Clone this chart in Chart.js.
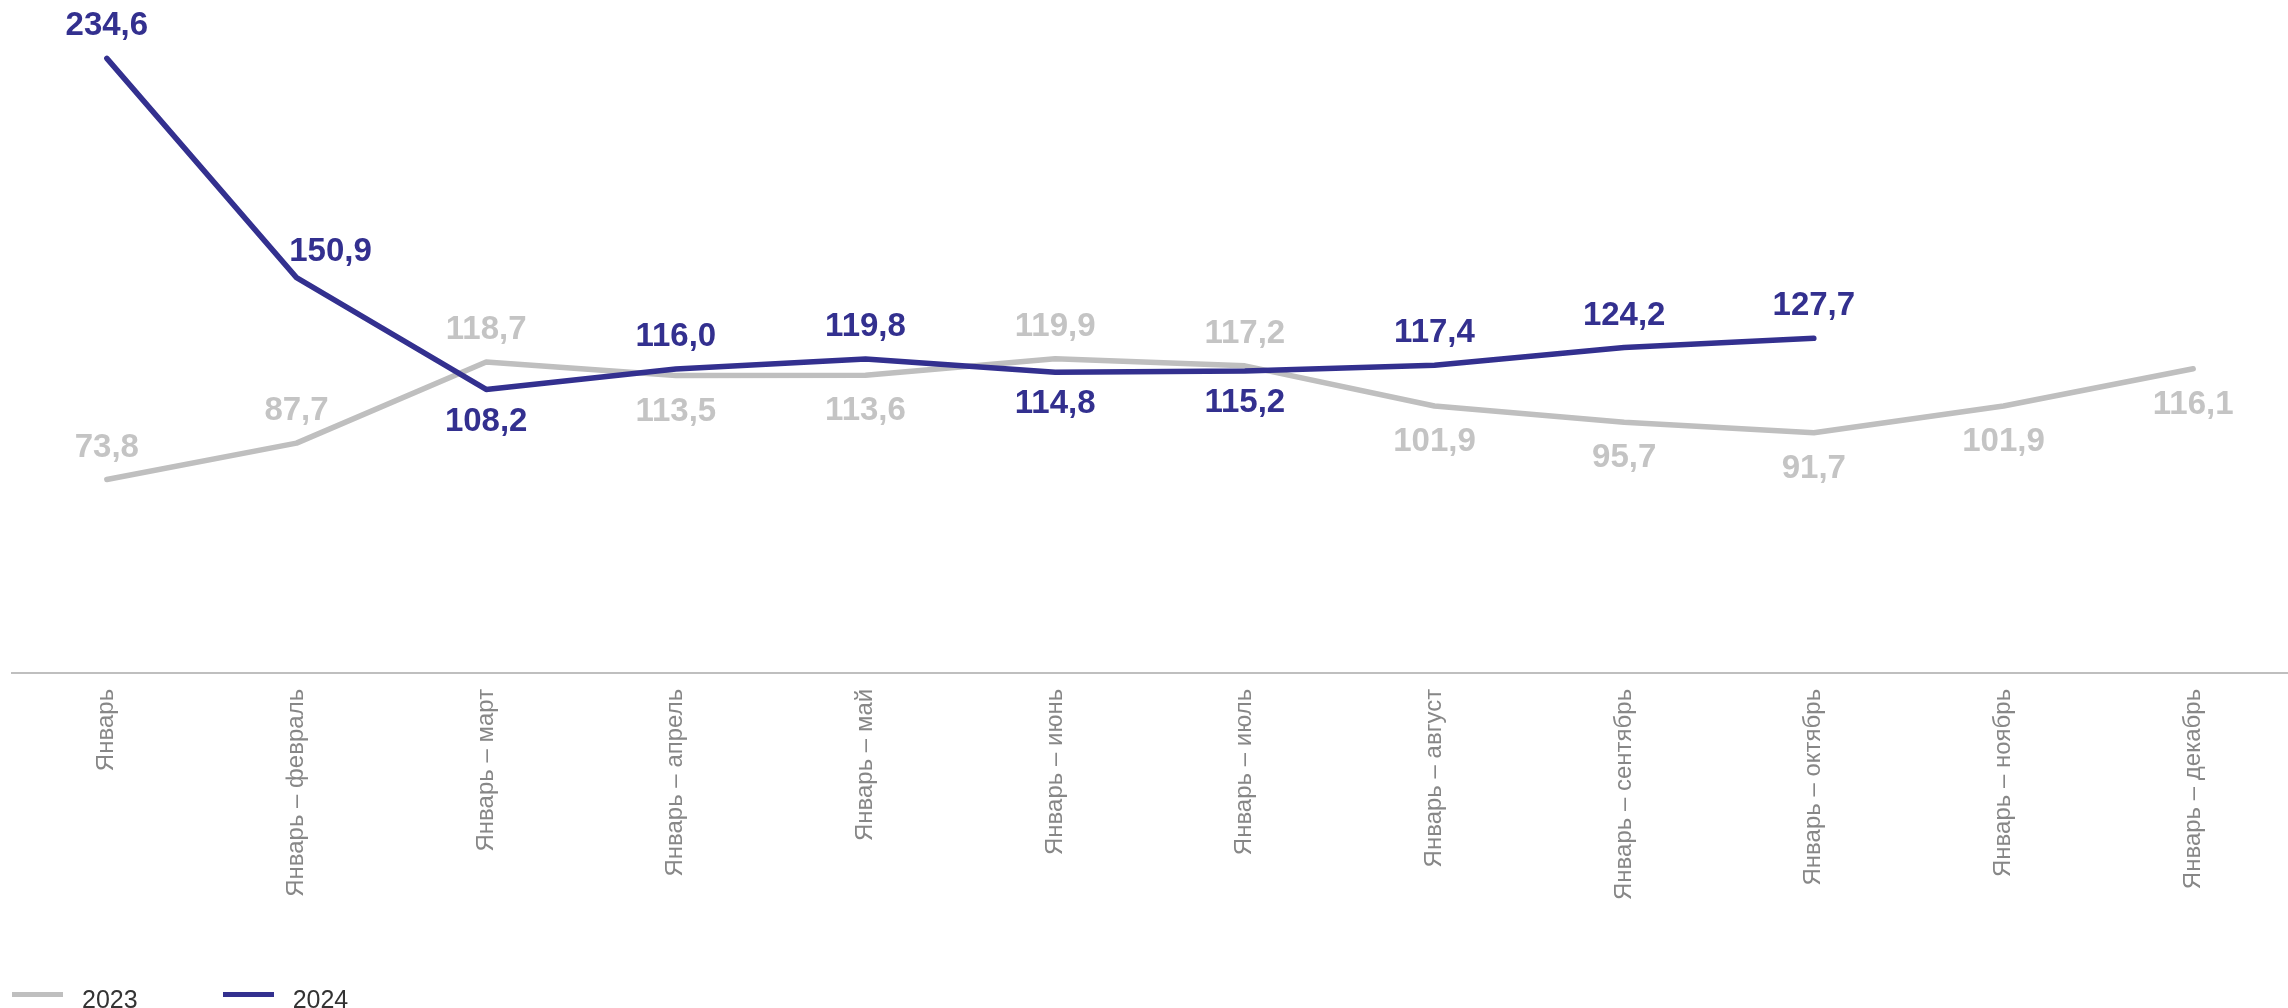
<!DOCTYPE html>
<html lang="ru">
<head>
<meta charset="utf-8">
<title>Январь – декабрь, 2023 / 2024</title>
<script src="https://cdn.jsdelivr.net/npm/chart.js@4.4.1/dist/chart.umd.min.js"></script>
<style>
  html, body { margin: 0; padding: 0; background: #fff; }
  .chart-wrap { position: relative; width: 2288px; height: 1008px; }
  #legend {
    position: absolute; left: 12px; top: 985px; display: flex;
    font-family: "Liberation Sans", Arial, sans-serif; font-size: 25px; color: #333;
  }
  .legend-item { display: flex; align-items: center; margin-right: 85px; }
  .legend-line { width: 51px; height: 5px; margin-right: 19px; position: relative; top: -5px; }
</style>
</head>
<body>
<div class="chart-wrap">
  <canvas id="growthChart"></canvas>
  <div id="legend"></div>
</div>
<script>
// Data
const categories = [
  'Январь', 'Январь – февраль', 'Январь – март', 'Январь – апрель', 'Январь – май', 'Январь – июнь',
  'Январь – июль', 'Январь – август', 'Январь – сентябрь', 'Январь – октябрь', 'Январь – ноябрь', 'Январь – декабрь'
];
const seriesNames = ['2023', '2024'];
const values2023 = [73.8, 87.7, 118.7, 113.5, 113.6, 119.9, 117.2, 101.9, 95.7, 91.7, 101.9, 116.1];
const values2024 = [234.6, 150.9, 108.2, 116.0, 119.8, 114.8, 115.2, 117.4, 124.2, 127.7, null, null];

const GRAY = '#bfbfbf';
const BLUE = '#33308f';

function fmt(v) {
  return v.toFixed(1).replace('.', ',');
}

// value labels above / below each point
const valueLabels = {
  id: 'valueLabels',
  afterDatasetsDraw(chart) {
    const ctx = chart.ctx;
    chart.data.datasets.forEach((ds, i) => {
      const meta = chart.getDatasetMeta(i);
      meta.data.forEach((pt, j) => {
        const v = ds.data[j];
        if (v == null) return;
        const pos = ds.labelPos[j];
        let dx = 0;
        let dy = pos === 'below' ? ds.belowOffset : -32;
        if (pos === 'aboveRight') { dx = 34; dy = -26; }
        ctx.save();
        ctx.font = 'bold 33px "Liberation Sans", Arial, sans-serif';
        ctx.fillStyle = ds.labelColor;
        ctx.textAlign = 'center';
        ctx.textBaseline = 'middle';
        ctx.fillText(fmt(v), pt.x + dx, pt.y + dy);
        ctx.restore();
      });
    });
  }
};

const ctx = document.getElementById('growthChart').getContext('2d');
new Chart(ctx, {
  type: 'line',
  data: {
    labels: categories,
    datasets: [
      {
        label: seriesNames[0],
        data: values2023,
        borderColor: GRAY,
        labelColor: '#c4c4c4',
        belowOffset: 36,
        labelPos: ['above', 'above', 'above', 'below', 'below', 'above', 'above', 'below', 'below', 'below', 'below', 'below'],
        order: 1
      },
      {
        label: seriesNames[1],
        data: values2024,
        borderColor: BLUE,
        labelColor: BLUE,
        belowOffset: 32,
        labelPos: ['above', 'aboveRight', 'below', 'above', 'above', 'below', 'below', 'above', 'above', 'above'],
        order: 0
      }
    ]
  },
  options: {
    responsive: true,
    maintainAspectRatio: false,
    animation: false,
    layout: { padding: { left: 12, right: 0, top: 18, bottom: 92 } },
    elements: {
      line: { borderWidth: 5.5, tension: 0, borderCapStyle: 'round', borderJoinStyle: 'round', fill: false },
      point: { radius: 0, hoverRadius: 0 }
    },
    plugins: {
      legend: { display: false },
      tooltip: { enabled: false }
    },
    scales: {
      x: {
        offset: true,
        grid: { display: false, drawTicks: false },
        border: { color: GRAY, width: 2 },
        ticks: {
          color: '#878787',
          font: { family: '"Liberation Sans", Arial, sans-serif', size: 24 },
          padding: 16,
          minRotation: 90,
          maxRotation: 90,
          autoSkip: false
        }
      },
      y: {
        display: false,
        min: 0,
        max: 250
      }
    }
  },
  plugins: [valueLabels]
});

// legend
const legend = document.getElementById('legend');
[[seriesNames[0], GRAY], [seriesNames[1], BLUE]].forEach(([name, color]) => {
  const item = document.createElement('div');
  item.className = 'legend-item';
  item.innerHTML = `<span class="legend-line" style="background:${color}"></span><span>${name}</span>`;
  legend.appendChild(item);
});
</script>
</body>
</html>
